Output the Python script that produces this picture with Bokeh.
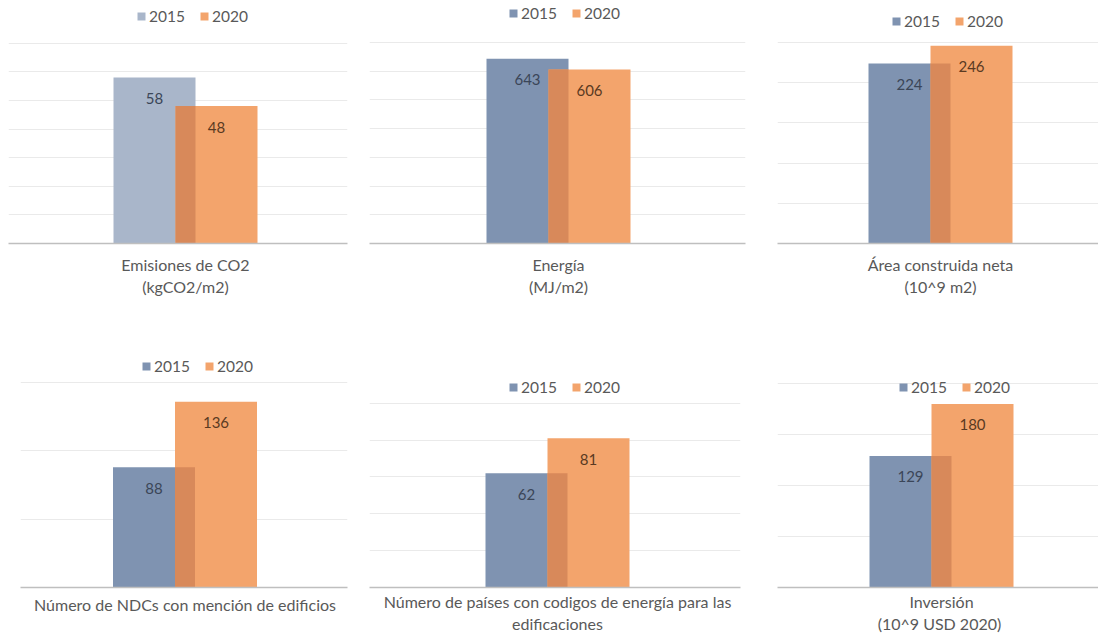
from bokeh.plotting import figure
from bokeh.models import Range1d, FixedTicker, Legend, LegendItem, Grid
from bokeh.layouts import row, column
from bokeh.embed import file_html
from bokeh.resources import INLINE
from bokeh.core.properties import value

# ---------------- data ----------------
years = ["2015", "2020"]
categories = [
    "Emisiones de CO2\n(kgCO2/m2)",
    "Energía\n(MJ/m2)",
    "Área construida neta\n(10^9 m2)",
    "Número de NDCs con mención de edificios",
    "Número de países con codigos de energía para las\nedificaciones",
    "Inversión\n(10^9  USD 2020)",
]
values_2015 = [58, 643, 224, 88, 62, 129]
values_2020 = [48, 606, 246, 136, 81, 180]
grid_steps = [10, 100, 50, 50, 20, 50]
grid_tops = [70, 700, 250, 150, 100, 200]

# ---------------- layout / style ----------------
FONT = "Lato"
fig_w = [360, 400, 338, 360, 400, 338]
fig_h = [318, 318, 318, 319, 319, 319]
frame_left = [8, 9, 17, 20, 9, 17]
frame_right = [13, 15, 0, 13, 20, 0]
pair_center = [185, 198, 180, 184.5, 197, 181]
baseline = [245, 246, 243, 269, 270, 269]
grid_px = [43, 42.5, 42, 64, 85, 65]
legend_cy = [17, 15, 20, 47, 69, 68]
legend_left = [136, 148, 131, 141, 148, 138]
label_standoff = [5, 5, 5, 1, -2, -2]
TOP = 0
OFF = 31
BW = 82
LEG_H = 19

c2015 = ["#a9b6ca", "#7f93b1", "#7f93b1", "#7f93b1", "#7f93b1", "#7f93b1"]
c2020 = "#f3a46c"
c_overlap = "#d8895a"
lab15 = "#3b4658"
lab20 = "#5a3a22"
txt = "#595959"


def make_panel(i):
    W, H = fig_w[i], fig_h[i]
    L, R = frame_left[i], frame_right[i]
    B = baseline[i]
    fw = W - L - R
    fh = B - TOP
    c = pair_center[i] - L
    yend = grid_tops[i] * fh / (B - grid_px[i])
    p = figure(width=W, height=H, x_range=Range1d(-c, fw - c), y_range=Range1d(0, yend),
               min_border_left=L, min_border_right=R, min_border_top=TOP,
               min_border_bottom=H - B, output_backend="svg", toolbar_location=None,
               y_axis_location=None, tools="")
    p.outline_line_color = None
    p.border_fill_color = "white"
    p.background_fill_color = "white"
    p.xgrid.visible = False
    p.ygrid.visible = False
    ticks = list(range(grid_steps[i], grid_tops[i] + 1, grid_steps[i]))
    p.add_layout(Grid(dimension=1, ticker=FixedTicker(ticks=ticks),
                      grid_line_color="#eaeaea", grid_line_width=1))

    ax = p.xaxis[0]
    ax.ticker = FixedTicker(ticks=[0])
    ax.major_label_overrides = {0: categories[i]}
    ax.major_tick_line_color = None
    ax.minor_tick_line_color = None
    ax.axis_line_color = "#bfbfbf"
    ax.axis_line_width = 1.5
    ax.major_label_text_font = FONT
    ax.major_label_text_font_size = "16px"
    ax.major_label_text_color = txt
    ax.major_label_standoff = label_standoff[i]

    v15, v20 = values_2015[i], values_2020[i]
    r15 = p.vbar(x=[-OFF], top=[v15], width=BW, bottom=0, fill_color=c2015[i], line_color=None)
    r20 = p.vbar(x=[OFF], top=[v20], width=BW, bottom=0, fill_color=c2020, line_color=None)
    p.quad(left=[OFF - BW / 2], right=[-OFF + BW / 2], bottom=[0], top=[min(v15, v20)],
           fill_color=c_overlap, line_color=None)

    p.text(x=[-OFF], y=[v15], text=[str(v15)], text_align="center", text_baseline="middle",
           y_offset=21, text_font=value(FONT), text_font_size="15px", text_color=lab15)
    p.text(x=[OFF], y=[v20], text=[str(v20)], text_align="center", text_baseline="middle",
           y_offset=21, text_font=value(FONT), text_font_size="15px", text_color=lab20)

    legend = Legend(items=[LegendItem(label=years[0], renderers=[r15]),
                           LegendItem(label=years[1], renderers=[r20])],
                    orientation="horizontal",
                    location=(legend_left[i] - L, B - (legend_cy[i] + LEG_H / 2)),
                    glyph_width=10, glyph_height=10, label_height=10, label_standoff=3,
                    spacing=14, padding=0, margin=0, border_line_color=None,
                    background_fill_alpha=0, label_text_font=FONT,
                    label_text_font_size="15.5px", label_text_color=txt,
                    label_text_baseline="middle")
    p.add_layout(legend)
    return p


panels = [make_panel(i) for i in range(6)]
layout = column(row(*panels[:3]), row(*panels[3:]))
open("out.html", "w").write(file_html(layout, INLINE))
